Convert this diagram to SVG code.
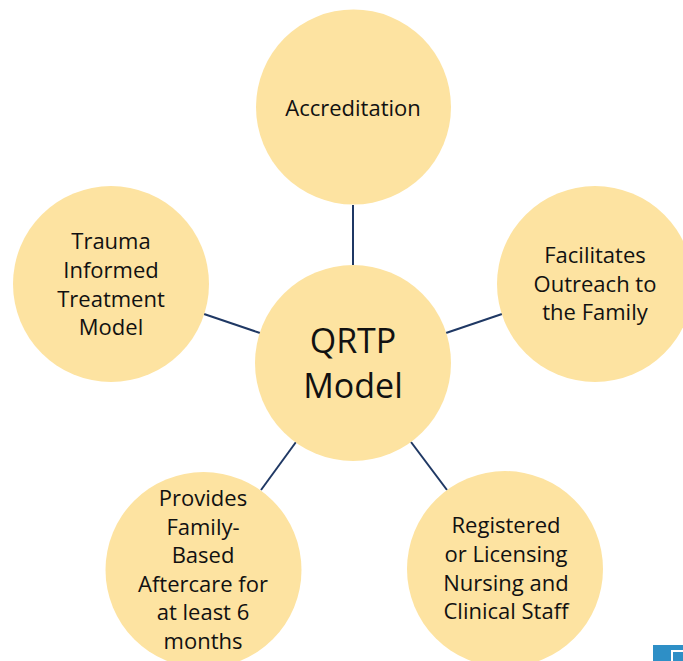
<svg xmlns="http://www.w3.org/2000/svg" width="683" height="661" viewBox="0 0 683 661">
  <style>
    .node { fill: #FDE3A1; }
    .lbl { font-family: "Open Sans", "Noto Sans", sans-serif; font-size: 22px; fill: #111111; text-anchor: middle; }
    .big { font-size: 34px; }
    .conn { stroke: #1F3864; stroke-width: 2; fill: none; }
  </style>
  <rect x="0" y="0" width="683" height="661" fill="#FFFFFF"/>
  <g id="connectors">
    <line class="conn" x1="353" y1="205" x2="353" y2="265"/>
    <line class="conn" x1="260" y1="333" x2="204" y2="314"/>
    <line class="conn" x1="446" y1="333" x2="502" y2="314"/>
    <line class="conn" x1="296" y1="442" x2="261" y2="490"/>
    <line class="conn" x1="411" y1="442" x2="447" y2="490"/>
  </g>
  <g id="center">
    <circle class="node" cx="353" cy="363" r="98"/>
    <text class="lbl big" x="353" y="353">QRTP</text>
    <text class="lbl big" x="353" y="398">Model</text>
  </g>
  <g id="accreditation">
    <circle class="node" cx="353.5" cy="107" r="97.5"/>
    <text class="lbl" x="353" y="115.5">Accreditation</text>
  </g>
  <g id="outreach">
    <circle class="node" cx="595" cy="284" r="98"/>
    <text class="lbl" x="595" y="263">Facilitates</text>
    <text class="lbl" x="595" y="291.5">Outreach to</text>
    <text class="lbl" x="595" y="320">the Family</text>
  </g>
  <g id="staff">
    <circle class="node" cx="505" cy="569" r="98"/>
    <text class="lbl" x="506" y="533">Registered</text>
    <text class="lbl" x="506" y="561.7">or Licensing</text>
    <text class="lbl" x="506" y="590.5">Nursing and</text>
    <text class="lbl" x="506" y="619.3">Clinical Staff</text>
  </g>
  <g id="aftercare">
    <circle class="node" cx="203.5" cy="570" r="98"/>
    <text class="lbl" x="203" y="506">Provides</text>
    <text class="lbl" x="203" y="534.7">Family-</text>
    <text class="lbl" x="203" y="563">Based</text>
    <text class="lbl" x="203" y="591.7">Aftercare for</text>
    <text class="lbl" x="203" y="620">at least 6</text>
    <text class="lbl" x="203" y="648.5">months</text>
  </g>
  <g id="trauma">
    <circle class="node" cx="111" cy="284" r="98"/>
    <text class="lbl" x="111" y="249">Trauma</text>
    <text class="lbl" x="111" y="277.7">Informed</text>
    <text class="lbl" x="111" y="306.5">Treatment</text>
    <text class="lbl" x="111" y="335">Model</text>
  </g>
  <g id="logo">
    <rect x="653" y="645" width="30" height="16" fill="#2E8FC6"/>
    <path d="M672,661 V651 H683" fill="none" stroke="#FFFFFF" stroke-width="2"/>
  </g>
</svg>
